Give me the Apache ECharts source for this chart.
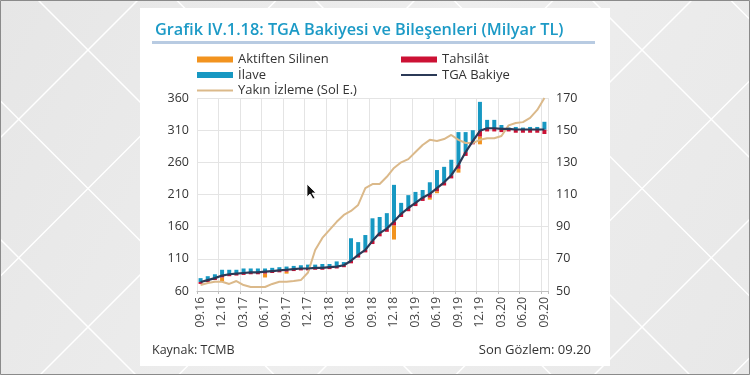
<!DOCTYPE html>
<html>
<head>
<meta charset="utf-8">
<script src="https://cdn.jsdelivr.net/npm/echarts@6/dist/echarts.min.js"></script>
<style>
html,body{margin:0;padding:0;background:#ebebeb;}
#c{width:750px;height:375px;}
</style>
</head>
<body>
<div id="c"></div>
<script>
// ---- data ----
var categories = ['09.16','10.16','11.16','12.16','01.17','02.17','03.17','04.17','05.17','06.17','07.17','08.17',
  '09.17','10.17','11.17','12.17','01.18','02.18','03.18','04.18','05.18','06.18','07.18','08.18',
  '09.18','10.18','11.18','12.18','01.19','02.19','03.19','04.19','05.19','06.19','07.19','08.19',
  '09.19','10.19','11.19','12.19','01.20','02.20','03.20','04.20','05.20','06.20','07.20','08.20','09.20'];
var tgaBakiye = [74,77,80,84,86,87,88,89,89,90,91,92,93,94,95,95,96,96,97,98,100,107,116,124,
  138,150,157,168,180,189,197,205,211,220,229,240,256,276,293,309,313,313,312,312,311,311,311,311,311];
var ilave = [6,6,6,9,7,6,7,6,6,5,5,5,5,5,5,6,5,6,5,8,5,35,20,23,
  35,25,24,57,17,20,17,12,18,28,24,24,51,31,17,45,13,13,6,2,4,3,4,4,12];
var tahsilat = [3,3,3,3,3,3,3,3,3,3,3,3,3,3,3,3,3,3,3,3,3,4,4,4,
  5,5,5,6,5,5,5,5,6,5,5,5,6,6,5,9,5,5,5,4,5,5,5,5,7];
var aktiftenSilinen = [0,0,0,6,0,0,0,0,0,6,0,0,3,0,0,0,0,0,0,0,0,0,0,0,
  0,0,0,22,0,0,0,0,3,3,0,0,6,0,0,12,0,0,0,0,0,0,0,0,0];
var yakinIzleme = [53.7,55,55.8,55.8,54.4,56.2,53.7,52.5,52.5,52.5,54.4,55.8,55.8,56.2,56.8,61.5,75.5,83,88,93,97.3,99.8,103.5,114,
  116.5,116.5,121,126.5,130,132,136.4,140.8,144,143.3,144.5,147,144,142,142,144,145,145,146.4,153,154.5,155,157.6,162.6,170];
var leftTicks = {min:60, max:360, step:50};
var rightTicks = {min:50, max:170, step:20};

var base = tgaBakiye.map(function(v,i){ return v - tahsilat[i] - aktiftenSilinen[i]; });

// ---- background decoration ----
var FONT = '"Open Sans", "DejaVu Sans", sans-serif';
var bg = [];
bg.push({type:'rect', z:-100, silent:true, shape:{x:0,y:0,width:750,height:375},
  style:{fill:new echarts.graphic.LinearGradient(0,0,1,1,[{offset:0,color:'#e6e6e6'},{offset:0.5,color:'#eeeeee'},{offset:1,color:'#e8e8e8'}])}});
for (var k=-6;k<=4;k++){
  var c = -38 + 138.5*k; // y = x + c
  bg.push({type:'line', z:-99, silent:true, shape:{x1:-c, y1:0, x2:375-c, y2:375}, style:{stroke:'#ffffff', lineWidth:1.5}});
}
for (var k2=-2;k2<=8;k2++){
  var c2 = 138 + 138.5*k2; // y = -x + c2
  bg.push({type:'line', z:-99, silent:true, shape:{x1:c2, y1:0, x2:c2-375, y2:375}, style:{stroke:'#ffffff', lineWidth:1.5}});
}
bg.push({type:'rect', z:-98, silent:true, shape:{x:140,y:8,width:470,height:358}, style:{fill:'#ffffff'}});
bg.push({type:'rect', z:-97, silent:true, shape:{x:152,y:41,width:443,height:3}, style:{fill:'#b8cbe2'}});
bg.push({type:'rect', z:50, silent:true, shape:{x:0.5,y:0.5,width:749,height:374}, style:{fill:'none', stroke:'#8a8a8a', lineWidth:1}});
bg.push({type:'text', z:50, silent:true, x:155, y:30, style:{text:'Grafik IV.1.18: TGA Bakiyesi ve Bileşenleri (Milyar TL)',
  font:'600 16.3px '+FONT, fill:'#1c9ac6', textAlign:'left', textVerticalAlign:'middle', align:'left', verticalAlign:'middle'}});
bg.push({type:'text', z:50, silent:true, x:152, y:350, style:{text:'Kaynak: TCMB',
  font:'12.5px '+FONT, fill:'#333333', textAlign:'left', textVerticalAlign:'middle', align:'left', verticalAlign:'middle'}});
bg.push({type:'text', z:50, silent:true, x:591, y:350, style:{text:'Son Gözlem: 09.20',
  font:'13px '+FONT, fill:'#333333', textAlign:'right', textVerticalAlign:'middle', align:'right', verticalAlign:'middle'}});
bg.push({type:'polygon', z:60, silent:true, shape:{points:[[307,184],[307,197],[310,194],[313,199],[315,198],[312,193],[316,193]]},
  style:{fill:'#111111', stroke:'#ffffff', lineWidth:0.8}});

var legendText = {fontSize:13, color:'#333333', fontFamily:FONT, lineHeight:13};
var lineIcon = 'path://M0 0H36V2H0Z';

var option = {
  animation:false,
  backgroundColor:'transparent',
  graphic: bg,
  legend:[
    {orient:'vertical', left:197, top:53, padding:0, itemWidth:36, itemHeight:6, itemGap:2.5, textStyle:legendText,
     data:[{name:'Aktiften Silinen', icon:'rect'},{name:'İlave', icon:'rect'},{name:'Yakın İzleme (Sol E.)', icon:lineIcon}]},
    {orient:'vertical', left:401, top:53, padding:0, itemWidth:36, itemHeight:6, itemGap:2.5, textStyle:legendText,
     data:[{name:'Tahsilât', icon:'rect'},{name:'TGA Bakiye', icon:lineIcon}]}
  ],
  grid:{left:197, right:202, top:98, bottom:84, containLabel:false},
  xAxis:{
    type:'category', data:categories, boundaryGap:true,
    axisLine:{show:true, lineStyle:{color:'#bfbfbf', width:1}},
    axisTick:{show:true, interval:2, length:3, lineStyle:{color:'#bfbfbf'}},
    axisLabel:{interval:2, rotate:90, fontSize:12, color:'#444444', fontFamily:FONT, margin:6},
    splitLine:{show:true, interval:2, lineStyle:{color:'#e4e4e4', width:1}}
  },
  yAxis:[
    {type:'value', min:leftTicks.min, max:leftTicks.max, interval:leftTicks.step, position:'left',
     axisLine:{show:false}, axisTick:{show:false},
     axisLabel:{fontSize:12.5, color:'#333333', fontFamily:FONT, margin:8},
     splitLine:{show:true, lineStyle:{color:'#e4e4e4', width:1}}},
    {type:'value', min:rightTicks.min, max:rightTicks.max, interval:rightTicks.step, position:'right',
     axisLine:{show:false}, axisTick:{show:false},
     axisLabel:{fontSize:12.5, color:'#333333', fontFamily:FONT, margin:8},
     splitLine:{show:false}}
  ],
  series:[
    {name:'_base', type:'bar', stack:'w', data:base, barWidth:4, silent:true,
     itemStyle:{color:'rgba(0,0,0,0)'}, emphasis:{disabled:true}},
    {name:'Aktiften Silinen', type:'bar', stack:'w', data:aktiftenSilinen, barWidth:4, itemStyle:{color:'#f2931f'}},
    {name:'Tahsilât', type:'bar', stack:'w', data:tahsilat, barWidth:4, itemStyle:{color:'#cc1134'}},
    {name:'İlave', type:'bar', stack:'w', data:ilave, barWidth:4, itemStyle:{color:'#1798c2'}},
    {name:'TGA Bakiye', type:'line', yAxisIndex:0, data:tgaBakiye, symbol:'none', showSymbol:false,
     lineStyle:{color:'#2b3a57', width:2.2}, itemStyle:{color:'#2b3a57'}, z:5},
    {name:'Yakın İzleme (Sol E.)', type:'line', yAxisIndex:1, data:yakinIzleme, symbol:'none', showSymbol:false,
     lineStyle:{color:'#dbb98a', width:2}, itemStyle:{color:'#dbb98a'}, z:4}
  ]
};
var chart = echarts.init(document.getElementById('c'), null, {renderer:'canvas'});
chart.setOption(option);
</script>
</body>
</html>
